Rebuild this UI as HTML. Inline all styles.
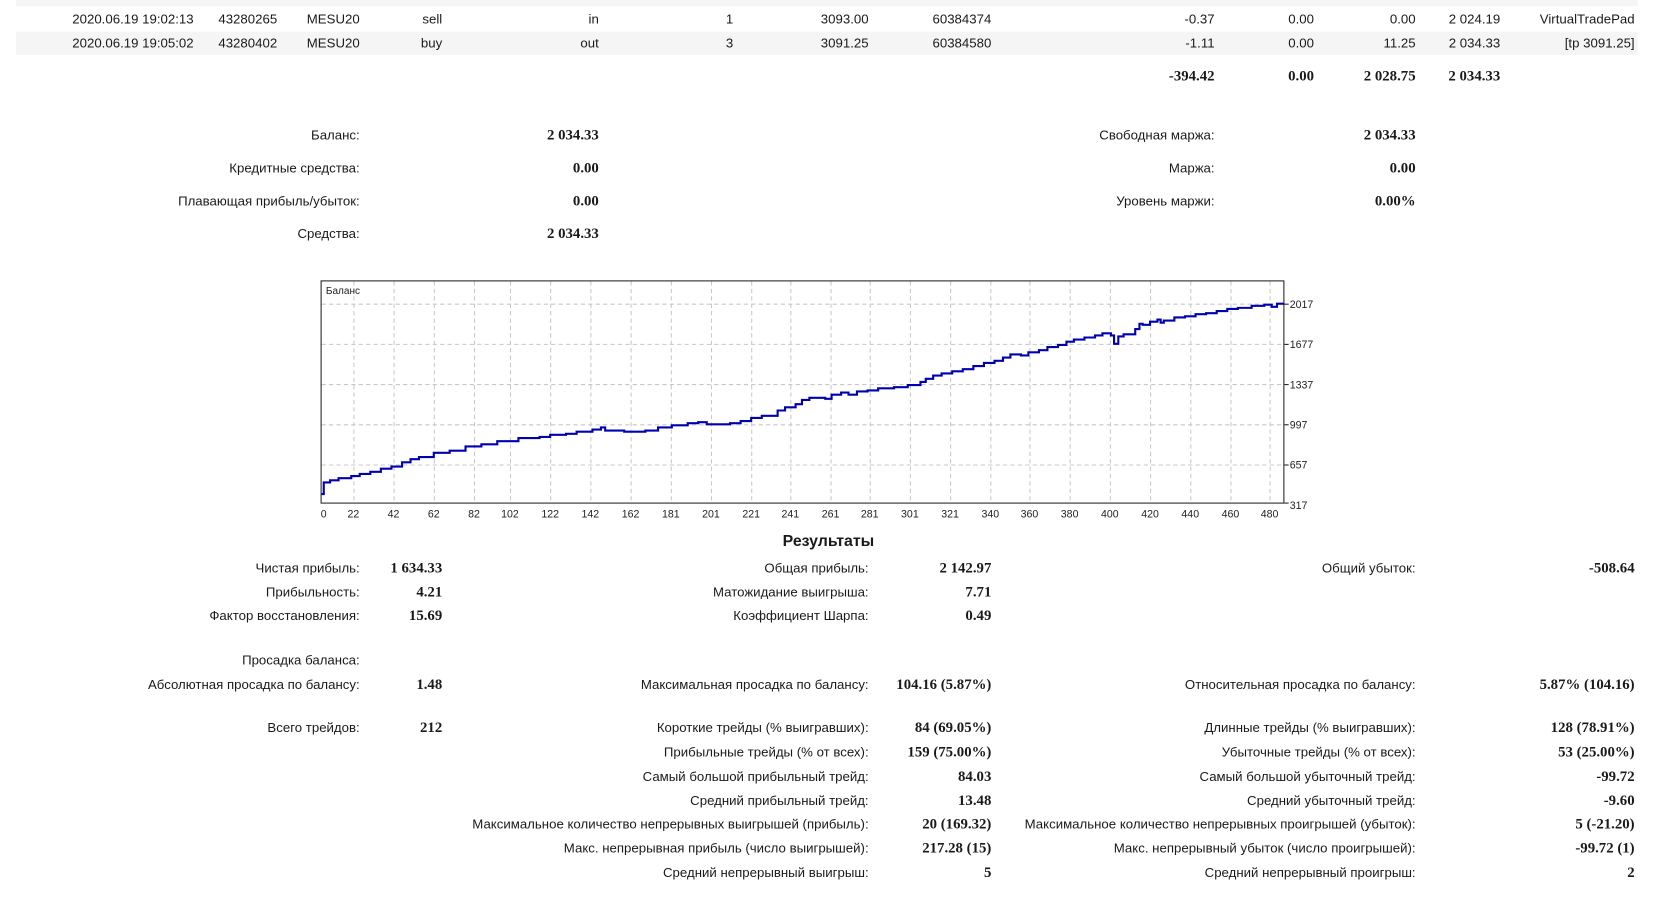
<!DOCTYPE html>
<html><head><meta charset="utf-8"><style>
html,body{margin:0;padding:0;background:#fff;overflow:hidden;width:1659px;height:899px}
#c{position:absolute;left:0;top:0;width:1560px;height:850px;transform:scale(1.058,1.058);transform-origin:0 0;font-family:"Liberation Sans","DejaVu Sans",sans-serif;font-size:12.5px;color:#1a1a1a}
.t{position:absolute;white-space:nowrap;line-height:16px;text-align:right}
.b{font-family:"Liberation Serif",serif;font-weight:bold;font-size:14px;margin-top:1px}
</style></head><body><div id="c">
<div style="position:absolute;left:15px;top:0;width:1533px;height:6px;background:#f5f5f5"></div>
<div style="position:absolute;left:15px;top:30px;width:1533px;height:22px;background:#f5f5f5"></div>

<div class="t" style="right:1377px;top:10px">2020.06.19 19:02:13</div>
<div class="t" style="right:1298px;top:10px">43280265</div>
<div class="t" style="right:1220px;top:10px">MESU20</div>
<div class="t" style="right:1142px;top:10px">sell</div>
<div class="t" style="right:994px;top:10px">in</div>
<div class="t" style="right:867px;top:10px">1</div>
<div class="t" style="right:739px;top:10px">3093.00</div>
<div class="t" style="right:623px;top:10px">60384374</div>
<div class="t" style="right:412px;top:10px">-0.37</div>
<div class="t" style="right:318px;top:10px">0.00</div>
<div class="t" style="right:222px;top:10px">0.00</div>
<div class="t" style="right:142px;top:10px">2 024.19</div>
<div class="t" style="right:15px;top:10px">VirtualTradePad</div>

<div class="t" style="right:1377px;top:33px">2020.06.19 19:05:02</div>
<div class="t" style="right:1298px;top:33px">43280402</div>
<div class="t" style="right:1220px;top:33px">MESU20</div>
<div class="t" style="right:1142px;top:33px">buy</div>
<div class="t" style="right:994px;top:33px">out</div>
<div class="t" style="right:867px;top:33px">3</div>
<div class="t" style="right:739px;top:33px">3091.25</div>
<div class="t" style="right:623px;top:33px">60384580</div>
<div class="t" style="right:412px;top:33px">-1.11</div>
<div class="t" style="right:318px;top:33px">0.00</div>
<div class="t" style="right:222px;top:33px">11.25</div>
<div class="t" style="right:142px;top:33px">2 034.33</div>
<div class="t" style="right:15px;top:33px">[tp 3091.25]</div>

<div class="t b" style="right:412px;top:64px">-394.42</div>
<div class="t b" style="right:318px;top:64px">0.00</div>
<div class="t b" style="right:222px;top:64px">2 028.75</div>
<div class="t b" style="right:142px;top:64px">2 034.33</div>

<div class="t" style="right:1220px;top:120px">Баланс:</div>
<div class="t b" style="right:994px;top:120px">2 034.33</div>
<div class="t" style="right:1220px;top:151px">Кредитные средства:</div>
<div class="t b" style="right:994px;top:151px">0.00</div>
<div class="t" style="right:1220px;top:182px">Плавающая прибыль/убыток:</div>
<div class="t b" style="right:994px;top:182px">0.00</div>
<div class="t" style="right:1220px;top:213px">Средства:</div>
<div class="t b" style="right:994px;top:213px">2 034.33</div>
<div class="t" style="right:412px;top:120px">Свободная маржа:</div>
<div class="t b" style="right:222px;top:120px">2 034.33</div>
<div class="t" style="right:412px;top:151px">Маржа:</div>
<div class="t b" style="right:222px;top:151px">0.00</div>
<div class="t" style="right:412px;top:182px">Уровень маржи:</div>
<div class="t b" style="right:222px;top:182px">0.00%</div>

<svg style="position:absolute;left:0;top:0" width="1560" height="500">
<g stroke="#c8c8c8" stroke-dasharray="4,3" stroke-width="1">
<line x1="304" x2="1213" y1="287.5" y2="287.5"/><line x1="304" x2="1213" y1="325.5" y2="325.5"/><line x1="304" x2="1213" y1="363.5" y2="363.5"/><line x1="304" x2="1213" y1="401.5" y2="401.5"/><line x1="304" x2="1213" y1="439.5" y2="439.5"/>
<line x1="334.5" x2="334.5" y1="266" y2="475"/><line x1="372.5" x2="372.5" y1="266" y2="475"/><line x1="410.5" x2="410.5" y1="266" y2="475"/><line x1="448.5" x2="448.5" y1="266" y2="475"/><line x1="482.5" x2="482.5" y1="266" y2="475"/><line x1="520.5" x2="520.5" y1="266" y2="475"/><line x1="558.5" x2="558.5" y1="266" y2="475"/><line x1="596.5" x2="596.5" y1="266" y2="475"/><line x1="634.5" x2="634.5" y1="266" y2="475"/><line x1="672.5" x2="672.5" y1="266" y2="475"/><line x1="710.5" x2="710.5" y1="266" y2="475"/><line x1="747.5" x2="747.5" y1="266" y2="475"/><line x1="785.5" x2="785.5" y1="266" y2="475"/><line x1="822.5" x2="822.5" y1="266" y2="475"/><line x1="860.5" x2="860.5" y1="266" y2="475"/><line x1="898.5" x2="898.5" y1="266" y2="475"/><line x1="936.5" x2="936.5" y1="266" y2="475"/><line x1="973.5" x2="973.5" y1="266" y2="475"/><line x1="1011.5" x2="1011.5" y1="266" y2="475"/><line x1="1049.5" x2="1049.5" y1="266" y2="475"/><line x1="1087.5" x2="1087.5" y1="266" y2="475"/><line x1="1125.5" x2="1125.5" y1="266" y2="475"/><line x1="1163.5" x2="1163.5" y1="266" y2="475"/><line x1="1200.5" x2="1200.5" y1="266" y2="475"/>
</g>
<rect x="303.5" y="265.5" width="910" height="210" fill="none" stroke="#222" stroke-width="1"/>
<g stroke="#222"><line x1="1214" x2="1218" y1="287.5" y2="287.5"/><line x1="1214" x2="1218" y1="325.5" y2="325.5"/><line x1="1214" x2="1218" y1="363.5" y2="363.5"/><line x1="1214" x2="1218" y1="401.5" y2="401.5"/><line x1="1214" x2="1218" y1="439.5" y2="439.5"/><line x1="1214" x2="1218" y1="475.5" y2="475.5"/></g>
<polyline fill="none" stroke="#0000b0" stroke-width="2" points="304,467 306,467 306,456 312,456 312,454 320,454 320,452 332,452 332,450 340,450 340,448 350,448 350,446 360,446 360,443 370,443 370,441 380,441 380,437 388,437 388,434 396,434 396,432 410,432 410,428 425,428 425,426 440,426 440,422 455,422 455,420 470,420 470,417 490,417 490,414 510,414 510,413 520,413 520,411 535,411 535,410 545,410 545,408 560,408 560,406 568,406 568,404 572,404 572,407 590,407 590,408 610,408 610,407 622,407 622,404 635,404 635,402 650,402 650,400 660,400 660,399 668,399 668,401 690,401 690,400 700,400 700,398 710,398 710,395 720,395 720,393 735,393 735,388 742,388 742,385 752,385 752,382 758,382 758,378 765,378 765,376 780,376 780,377 786,377 786,373 795,373 795,371 802,371 802,373 810,373 810,370 820,370 820,369 830,369 830,367 845,367 845,366 858,366 858,364 870,364 870,361 875,361 875,358 882,358 882,355 890,355 890,353 900,353 900,351 910,351 910,349 920,349 920,346 930,346 930,343 940,343 940,341 948,341 948,338 955,338 955,335 965,335 965,336 972,336 972,333 982,333 982,331 990,331 990,328 1000,328 1000,326 1008,326 1008,323 1015,323 1015,321 1025,321 1025,319 1035,319 1035,317 1042,317 1042,315 1050,315 1050,317 1053,317 1053,325 1057,325 1057,318 1062,318 1062,316 1073,316 1073,311 1077,311 1077,306 1080,306 1080,307 1087,307 1087,304 1094,304 1094,302 1097,302 1097,305 1100,305 1100,303 1110,303 1110,300 1120,300 1120,299 1130,299 1130,297 1140,297 1140,296 1150,296 1150,294 1160,294 1160,292 1170,292 1170,291 1183,291 1183,289 1195,289 1195,288 1202,288 1202,290 1207,290 1207,287 1214,287"/>
<text x="308" y="278" font-family="Liberation Sans,sans-serif" font-size="9.5" fill="#222">Баланс</text>
<g font-family="Liberation Sans,sans-serif" font-size="10" fill="#222">
<text x="1219" y="291">2017</text><text x="1219" y="329">1677</text><text x="1219" y="367">1337</text><text x="1219" y="405">997</text><text x="1219" y="443">657</text><text x="1219" y="481">317</text>
<g text-anchor="middle"><text x="306" y="489">0</text><text x="334" y="489">22</text><text x="372" y="489">42</text><text x="410" y="489">62</text><text x="448" y="489">82</text><text x="482" y="489">102</text><text x="520" y="489">122</text><text x="558" y="489">142</text><text x="596" y="489">162</text><text x="634" y="489">181</text><text x="672" y="489">201</text><text x="710" y="489">221</text><text x="747" y="489">241</text><text x="785" y="489">261</text><text x="822" y="489">281</text><text x="860" y="489">301</text><text x="898" y="489">321</text><text x="936" y="489">340</text><text x="973" y="489">360</text><text x="1011" y="489">380</text><text x="1049" y="489">400</text><text x="1087" y="489">420</text><text x="1125" y="489">440</text><text x="1163" y="489">460</text><text x="1200" y="489">480</text></g>
</g>
</svg>

<div class="t" style="left:0;width:1566px;text-align:center;top:504px;font-weight:bold;font-size:15px">Результаты</div>

<div class="t" style="right:1220px;top:529px">Чистая прибыль:</div><div class="t b" style="right:1142px;top:529px">1 634.33</div>
<div class="t" style="right:739px;top:529px">Общая прибыль:</div><div class="t b" style="right:623px;top:529px">2 142.97</div>
<div class="t" style="right:222px;top:529px">Общий убыток:</div><div class="t b" style="right:15px;top:529px">-508.64</div>

<div class="t" style="right:1220px;top:552px">Прибыльность:</div><div class="t b" style="right:1142px;top:552px">4.21</div>
<div class="t" style="right:739px;top:552px">Матожидание выигрыша:</div><div class="t b" style="right:623px;top:552px">7.71</div>

<div class="t" style="right:1220px;top:574px">Фактор восстановления:</div><div class="t b" style="right:1142px;top:574px">15.69</div>
<div class="t" style="right:739px;top:574px">Коэффициент Шарпа:</div><div class="t b" style="right:623px;top:574px">0.49</div>

<div class="t" style="right:1220px;top:616px">Просадка баланса:</div>
<div class="t" style="right:1220px;top:639px">Абсолютная просадка по балансу:</div><div class="t b" style="right:1142px;top:639px">1.48</div>
<div class="t" style="right:739px;top:639px">Максимальная просадка по балансу:</div><div class="t b" style="right:623px;top:639px">104.16 (5.87%)</div>
<div class="t" style="right:222px;top:639px">Относительная просадка по балансу:</div><div class="t b" style="right:15px;top:639px">5.87% (104.16)</div>

<div class="t" style="right:1220px;top:680px">Всего трейдов:</div><div class="t b" style="right:1142px;top:680px">212</div>
<div class="t" style="right:739px;top:680px">Короткие трейды (% выигравших):</div><div class="t b" style="right:623px;top:680px">84 (69.05%)</div>
<div class="t" style="right:222px;top:680px">Длинные трейды (% выигравших):</div><div class="t b" style="right:15px;top:680px">128 (78.91%)</div>

<div class="t" style="right:739px;top:703px">Прибыльные трейды (% от всех):</div><div class="t b" style="right:623px;top:703px">159 (75.00%)</div>
<div class="t" style="right:222px;top:703px">Убыточные трейды (% от всех):</div><div class="t b" style="right:15px;top:703px">53 (25.00%)</div>

<div class="t" style="right:739px;top:726px">Самый большой прибыльный трейд:</div><div class="t b" style="right:623px;top:726px">84.03</div>
<div class="t" style="right:222px;top:726px">Самый большой убыточный трейд:</div><div class="t b" style="right:15px;top:726px">-99.72</div>

<div class="t" style="right:739px;top:749px">Средний прибыльный трейд:</div><div class="t b" style="right:623px;top:749px">13.48</div>
<div class="t" style="right:222px;top:749px">Средний убыточный трейд:</div><div class="t b" style="right:15px;top:749px">-9.60</div>

<div class="t" style="right:739px;top:771px">Максимальное количество непрерывных выигрышей (прибыль):</div><div class="t b" style="right:623px;top:771px">20 (169.32)</div>
<div class="t" style="right:222px;top:771px">Максимальное количество непрерывных проигрышей (убыток):</div><div class="t b" style="right:15px;top:771px">5 (-21.20)</div>

<div class="t" style="right:739px;top:794px">Макс. непрерывная прибыль (число выигрышей):</div><div class="t b" style="right:623px;top:794px">217.28 (15)</div>
<div class="t" style="right:222px;top:794px">Макс. непрерывный убыток (число проигрышей):</div><div class="t b" style="right:15px;top:794px">-99.72 (1)</div>

<div class="t" style="right:739px;top:817px">Средний непрерывный выигрыш:</div><div class="t b" style="right:623px;top:817px">5</div>
<div class="t" style="right:222px;top:817px">Средний непрерывный проигрыш:</div><div class="t b" style="right:15px;top:817px">2</div>
</div></body></html>
